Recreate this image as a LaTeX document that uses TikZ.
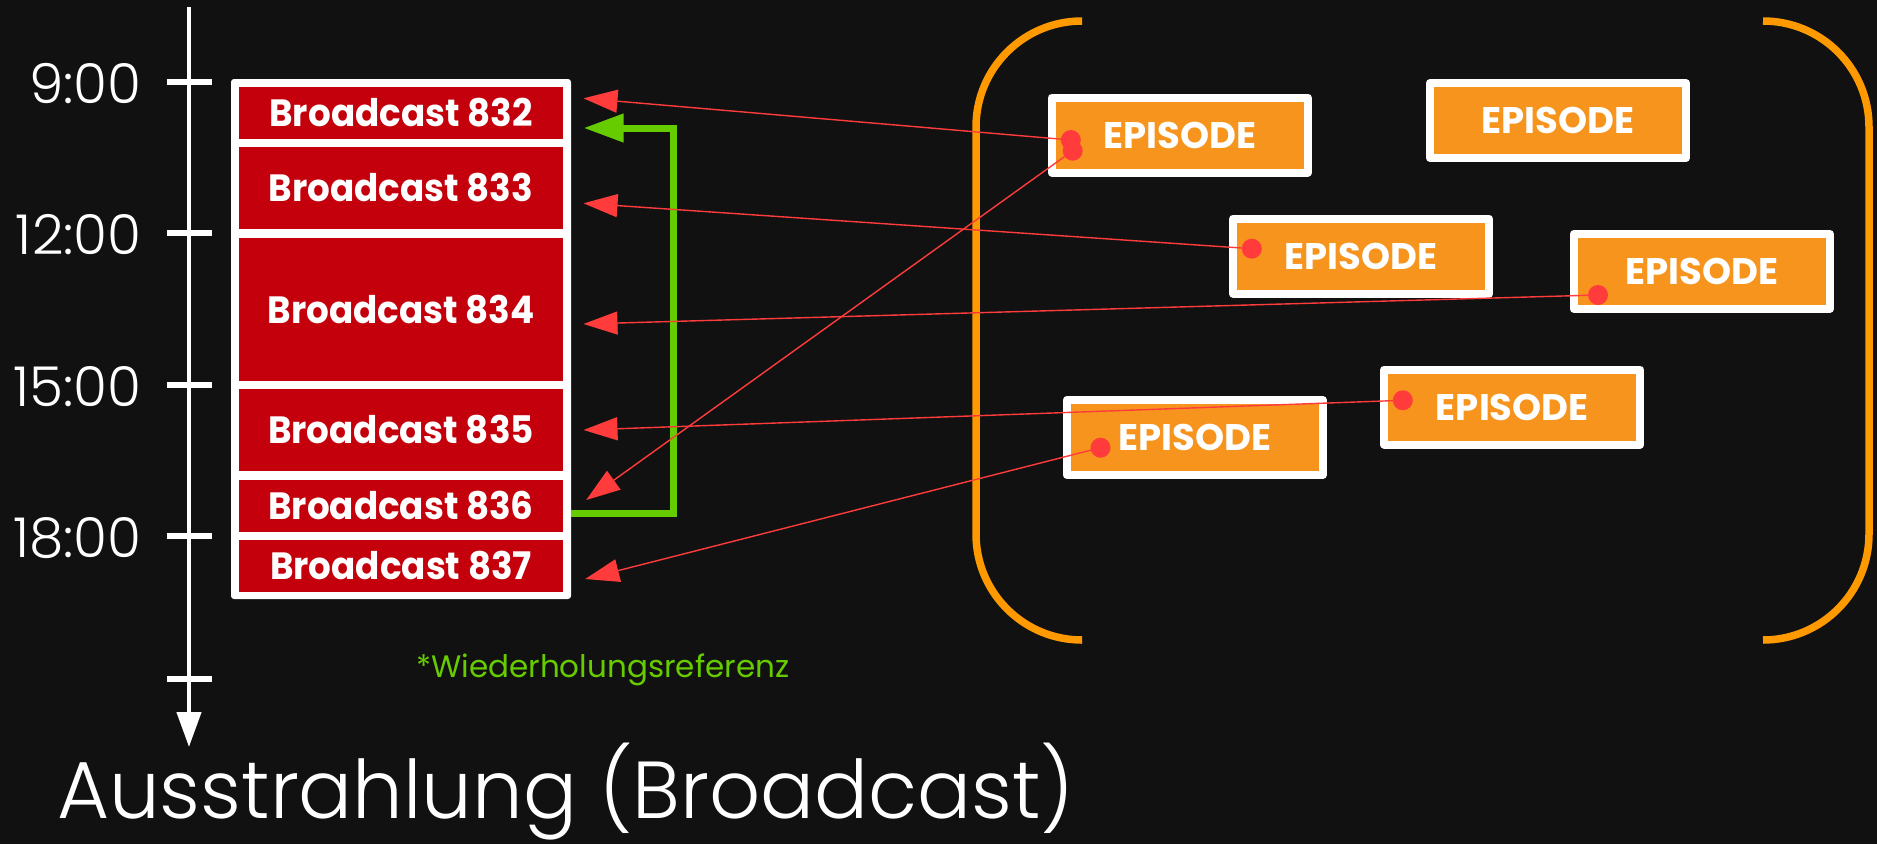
\documentclass[tikz,border=0pt]{standalone}
\usepackage{fontspec}
\usepackage{graphicx}
\setmainfont{Poppins}
\IfFontExistsTF{Poppins Light}{\newfontfamily\lightfont{Poppins Light}}{\newfontfamily\lightfont{Poppins}}
\usetikzlibrary{arrows.meta,calc}
\definecolor{bg}{HTML}{111111}
\definecolor{bcred}{HTML}{C3000B}
\definecolor{epiorange}{HTML}{F7941D}
\definecolor{brk}{HTML}{FF9900}
\definecolor{refred}{HTML}{FF3B3B}
\definecolor{repgreen}{HTML}{66CC00}
\newcommand{\bclabel}[1]{\scalebox{0.94}[1]{Broadcast #1}}
\begin{document}
\begin{tikzpicture}[x=1pt,y=-1pt,
  cell/.style={fill=bcred, minimum width=324pt, inner sep=0pt, text=white,
    font=\bfseries\fontsize{38}{40}\selectfont},
  epi/.style={draw=white, line width=8pt, line join=round, fill=epiorange,
    minimum width=256pt, minimum height=75pt, inner sep=0pt, text=white,
    font=\bfseries\fontsize{37}{40}\selectfont},
  refdot/.style={circle, fill=refred, minimum size=20pt, inner sep=0pt},
  refline/.style={draw=refred, line width=1.4pt, -{Triangle[length=34pt,width=23pt]}},
  tickline/.style={draw=white, line width=6.5pt},
  timelbl/.style={text=white, inner sep=0pt, anchor=base east,
    font=\lightfont\fontsize{55}{60}\selectfont},
  bracketline/.style={draw=brk, line width=7.5pt, rounded corners=106pt},
  replink/.style={draw=repgreen, line width=7pt, -{Triangle[length=40pt,width=27pt]}}
]
\useasboundingbox (0,0) rectangle (1877,844);
\fill[bg] (0,0) rectangle (1877,844);

% timeline
\coordinate (ttop) at (189,7);
\coordinate (tend) at (189,747);
\draw[white, line width=4.5pt, -{Triangle[length=35pt,width=24pt]}] (ttop) -- (tend);
\foreach \yy/\lab in {82/9:00, 233/12:00, 385/15:00, 536/18:00}{
  \draw[tickline] (167,\yy) -- (212,\yy);
  \node[timelbl] at (141.6,\yy+21) {\lab};
}
\draw[tickline] (167,679) -- (212,679);

% broadcasts
\fill[white, rounded corners=3pt] (231,79) rectangle (571,599);
\node[cell, minimum height=52pt]  (b832) at (401,113)   {\bclabel{832}};
\node[cell, minimum height=82pt]  (b833) at (401,188)   {\bclabel{833}};
\node[cell, minimum height=143pt] (b834) at (401,309.5) {\bclabel{834}};
\node[cell, minimum height=82pt]  (b835) at (401,430)   {\bclabel{835}};
\node[cell, minimum height=52pt]  (b836) at (401,506)   {\bclabel{836}};
\node[cell, minimum height=52pt]  (b837) at (401,566)   {\bclabel{837}};

% repeat reference
\coordinate (gs) at ($(b836.east)+(8,7)$);
\coordinate (ge) at ($(b832.east)+(20.3,15)$);
\draw[replink] (gs) -| ($(ge)+(89.7,0)$) -- (ge);
\node[text=repgreen, inner sep=0pt, anchor=base west, font=\fontsize{31}{34}\selectfont]
  (note) at (416,677) {*Wiederholungsreferenz};

% brackets
\draw[bracketline] (1081,21) -- (976,21) -- (976,640) -- (1081,640);
\draw[bracketline] (1763,21) -- (1869,21) -- (1869,640) -- (1763,640);

% episodes
\node[epi] (e1) at (1179.7,135)   {EPISODE};
\node[epi] (e2) at (1558,120.5)   {EPISODE};
\node[epi] (e3) at (1361.2,256)   {EPISODE};
\node[epi] (e4) at (1701.7,271.5) {EPISODE};
\node[epi] (e5) at (1512.3,407)   {EPISODE};
\node[epi] (e6) at (1194.7,437.5) {EPISODE};

% arrow tips
\coordinate (t832) at ($(b832.east)+(20.3,-14.7)$);
\coordinate (t833) at ($(b833.east)+(20.3,15.3)$);
\coordinate (t834) at ($(b834.east)+(20.3,14.5)$);
\coordinate (t835) at ($(b835.east)+(20.3,0)$);
\coordinate (t836) at ($(b836.east)+(23,-6)$);
\coordinate (t837) at ($(b837.east)+(22,13)$);

% dots
\node[refdot] (dA) at (1070.8,140) {};
\node[refdot] (dB) at (1072.7,150.7) {};
\node[refdot] (d3) at (1251.8,248.7) {};
\node[refdot] (d4) at (1598,295) {};
\node[refdot] (d5) at (1402.8,400.3) {};
\node[refdot] (d6) at (1100.5,447.7) {};

\draw[refline] (dA.center) -- (t832);
\draw[refline] (dB.center) -- (t836);
\draw[refline] (d3.center) -- (t833);
\draw[refline] (d4.center) -- (t834);
\draw[refline] (d5.center) -- (t835);
\draw[refline] (d6.center) -- (t837);

% title
\node[text=white, inner sep=0pt, anchor=base west, font=\lightfont\fontsize{86}{94}\selectfont]
  (title) at (57,818) {\scalebox{0.93}[0.94]{Ausstrahlung (Broadcast)}};
\end{tikzpicture}
\end{document}
